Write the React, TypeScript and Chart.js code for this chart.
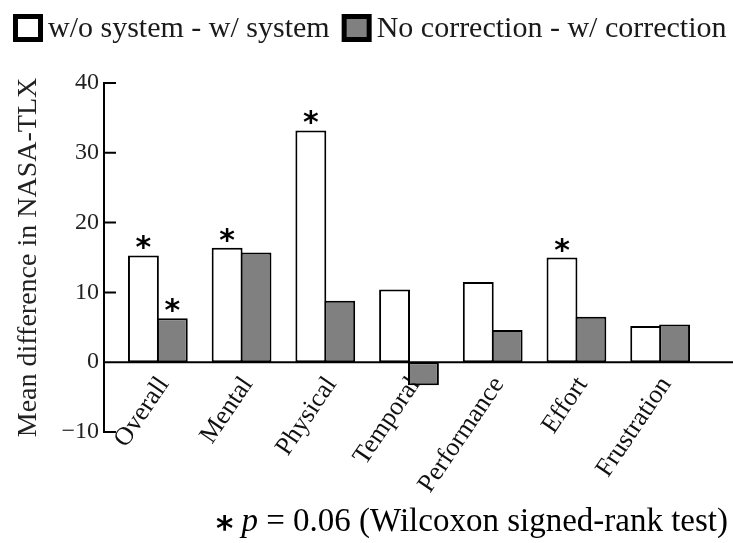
import React, { useEffect, useRef } from 'react';
import { Chart, registerables } from 'chart.js';

Chart.register(...registerables);

const categories = ['Overall', 'Mental', 'Physical', 'Temporal', 'Performance', 'Effort', 'Frustration'];
const seriesLabels = ['w/o system - w/ system', 'No correction - w/ correction'];
const systemDiff = [15.3, 16.4, 33.2, 10.4, 11.5, 15.0, 5.2];
const correctionDiff = [6.3, 15.7, 8.8, -3.3, 4.6, 6.5, 5.4];
const systemSignificant = [true, true, true, false, false, true, false];
const correctionSignificant = [true, false, false, false, false, false, false];
const yMin = -10;
const yMax = 40;
const yStep = 10;
const yTitle = 'Mean difference in NASA-TLX';
const footnoteParts = ['*', 'p', '= 0.06 (Wilcoxon signed-rank test)'];

const SERIF = '"Liberation Serif", "Times New Roman", serif';
const STAR_FONT = 'bold 30px "DejaVu Sans"';

const decorPlugin = {
  id: 'decor',
  afterDatasetsDraw(chart: any) {
    const { ctx, chartArea } = chart;
    const y = chart.scales.y;
    const axisX = chartArea.left - 12;
    ctx.save();
    ctx.strokeStyle = '#000';
    ctx.lineWidth = 2;
    ctx.lineCap = 'square';
    ctx.beginPath();
    ctx.moveTo(axisX, y.getPixelForValue(yMax));
    ctx.lineTo(axisX, y.getPixelForValue(yMin));
    y.ticks.forEach((t: any) => {
      const py = y.getPixelForValue(t.value);
      ctx.moveTo(axisX, py);
      ctx.lineTo(axisX + 11, py);
    });
    const p0 = y.getPixelForValue(0);
    ctx.moveTo(axisX, p0);
    ctx.lineTo(chart.width, p0);
    ctx.stroke();

    // significance asterisks
    ctx.fillStyle = '#000';
    ctx.font = STAR_FONT;
    ctx.textAlign = 'center';
    ctx.textBaseline = 'alphabetic';
    const flags = [systemSignificant, correctionSignificant];
    flags.forEach((arr, di) => {
      const meta = chart.getDatasetMeta(di);
      arr.forEach((f, i) => {
        if (!f) return;
        const bar = meta.data[i];
        ctx.fillText('*', bar.x, bar.y + 2);
      });
    });
    ctx.restore();
  },
  afterDraw(chart: any) {
    const { ctx } = chart;
    ctx.save();
    // legend
    ctx.font = '30px ' + SERIF;
    ctx.textBaseline = 'alphabetic';
    ctx.textAlign = 'left';
    let x = 13;
    chart.data.datasets.forEach((ds: any) => {
      ctx.fillStyle = '#000';
      ctx.fillRect(x, 14, 30, 28);
      ctx.fillStyle = ds.backgroundColor;
      ctx.fillRect(x + 5, 19, 20, 18);
      ctx.fillStyle = '#1a1a1a';
      ctx.fillText(ds.label, x + 35, 37);
      x += 35 + ctx.measureText(ds.label).width + 12;
    });

    // footnote
    const baseY = 531;
    const regular = '33px ' + SERIF;
    const italic = 'italic 33px ' + SERIF;
    const parts = [
      { t: footnoteParts[0], f: 'bold 33px "DejaVu Sans"', dy: 9 },
      { t: ' ', f: regular, dy: 0 },
      { t: footnoteParts[1], f: italic, dy: 0 },
      { t: ' ' + footnoteParts[2], f: regular, dy: 0 },
    ];
    let total = 0;
    parts.forEach((p) => {
      ctx.font = p.f;
      total += ctx.measureText(p.t).width;
    });
    let fx = 728 - total;
    ctx.fillStyle = '#000';
    parts.forEach((p) => {
      ctx.font = p.f;
      ctx.fillText(p.t, fx, baseY + p.dy);
      fx += ctx.measureText(p.t).width;
    });
    ctx.restore();
  },
};

export default function App() {
  const ref = useRef<HTMLCanvasElement | null>(null);
  useEffect(() => {
    if (!ref.current) return;
    const chart = new Chart(ref.current, {
      type: 'bar',
      data: {
        labels: categories,
        datasets: [
          {
            label: seriesLabels[0],
            data: systemDiff,
            backgroundColor: '#ffffff',
            borderColor: '#000000',
            borderWidth: 2,
            borderSkipped: false,
            barPercentage: 1.07,
            categoryPercentage: 0.69,
          },
          {
            label: seriesLabels[1],
            data: correctionDiff,
            backgroundColor: '#808080',
            borderColor: '#000000',
            borderWidth: 2,
            borderSkipped: false,
            barPercentage: 1.07,
            categoryPercentage: 0.69,
          },
        ],
      },
      options: {
        responsive: false,
        animation: false,
        devicePixelRatio: 1,
        layout: { padding: { left: 0, right: 31, top: 83, bottom: 111 } },
        plugins: {
          legend: { display: false },
          tooltip: { enabled: false },
        },
        scales: {
          x: {
            type: 'category',
            position: { y: 0 } as any,
            offset: true,
            grid: { display: false, drawTicks: false },
            border: { display: false },
            ticks: {
              autoSkip: false,
              minRotation: 56,
              maxRotation: 56,
              padding: 9,
              labelOffset: 6,
              color: '#111',
              font: { family: SERIF, size: 26 },
            },
          },
          y: {
            type: 'linear',
            min: yMin,
            max: yMax,
            afterFit(scale: any) {
              scale.width = 116;
            },
            grid: { display: false, drawTicks: false },
            border: { display: false },
            ticks: {
              stepSize: yStep,
              padding: 17,
              color: '#222',
              font: { family: SERIF, size: 24 },
              callback: (v: any) => (Number(v) < 0 ? '\u2212' + Math.abs(Number(v)) : String(v)),
            },
            title: {
              display: true,
              text: yTitle,
              color: '#222',
              font: { family: SERIF, size: 28 },
              padding: { top: 12, bottom: 0 },
            },
          },
        },
      },
      plugins: [decorPlugin],
    });
    return () => chart.destroy();
  }, []);
  return (
    <div style={{ position: 'fixed', left: 0, top: 0, width: 733, height: 543, background: '#fff' }}>
      <canvas ref={ref} width={733} height={543} style={{ display: 'block' }} />
    </div>
  );
}
